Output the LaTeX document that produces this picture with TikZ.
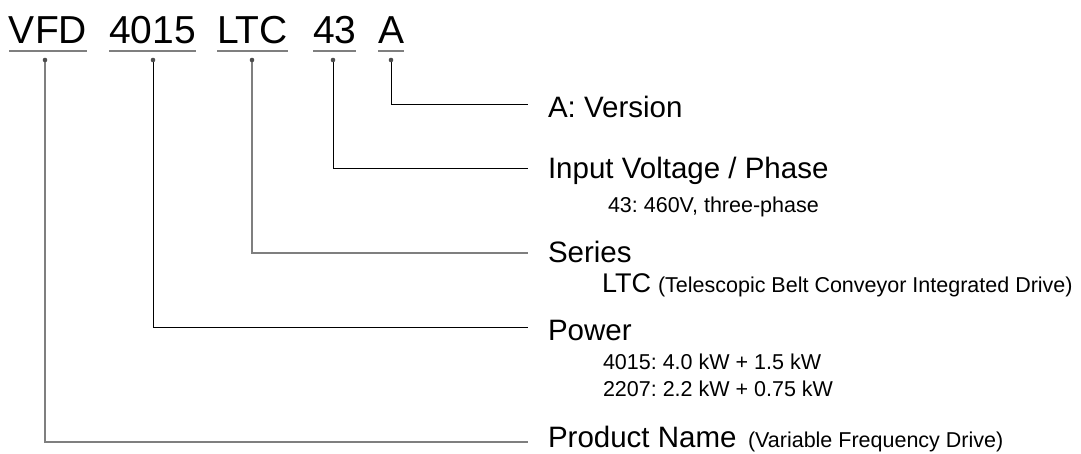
\documentclass[tikz,border=0pt]{standalone}
\usepackage{fontspec}
\setmainfont{Liberation Sans}
\definecolor{lgray}{HTML}{7F7F7F}
\definecolor{dgray}{HTML}{4D4D4D}
\frenchspacing
\begin{document}
\begin{tikzpicture}[x=1pt,y=1pt,
  every node/.style={inner sep=0pt,outer sep=0pt,anchor=base west},
  titletxt/.style={font=\fontsize{39}{39}\selectfont},
  bigtxt/.style={font=\fontsize{29.5}{30}\selectfont},
  smalltxt/.style={font=\fontsize{21.5}{22}\selectfont},
  uline/.style={draw=lgray,line width=1.8pt},
  dotmark/.style={fill=dgray,draw=none},
  conblack/.style={draw=black,line width=1pt},
  congray/.style={draw=lgray,line width=1.5pt}]
\useasboundingbox (0,0) rectangle (1081,-453);
% title words
\node[titletxt] (vfd) at (9,-43) {VFD};
\node[titletxt] (pw) at (109,-43) {4015};
\node[titletxt] (ser) at (217,-43) {LTC};
\node[titletxt] (vol) at (313,-43) {43};
\node[titletxt] (ver) at (378,-43) {A};
\foreach \n in {vfd,pw,ser,vol,ver}{
  \draw[uline] ([yshift=-8pt]\n.base west) -- ([yshift=-8pt]\n.base east);
}
% dots
\coordinate (dvfd) at (45,-60);
\coordinate (dpw) at (153,-60);
\coordinate (dser) at (252,-60);
\coordinate (dvol) at (333,-60);
\coordinate (dver) at (391,-60);
% connector ends
\coordinate (ever) at (528,-104);
\coordinate (evol) at (528,-168);
\coordinate (eser) at (528,-253);
\coordinate (epw) at (528,-327);
\coordinate (evfd) at (528,-442);
\draw[conblack] (dver) |- (ever);
\draw[conblack] (dvol) |- (evol);
\draw[congray] (dser) |- (eser);
\draw[conblack] (dpw) |- (epw);
\draw[congray] (dvfd) |- (evfd);
\foreach \n in {dvfd,dpw,dser,dvol,dver}{
  \fill[dotmark] (\n) circle (2.3pt);
}
% labels
\node[bigtxt] (lver) at (548,-117) {A: Version};
\node[bigtxt] (lvol) at (548,-178) {Input Voltage / Phase};
\node[smalltxt] (lvol2) at (608,-212) {43: 460V, three-phase};
\node[bigtxt] (lser) at (548,-262) {Series};
\node[font=\fontsize{27}{28}\selectfont] (lser2) at (602,-292) {LTC};
\node[smalltxt] (lser3) at (658,-292) {(Telescopic Belt Conveyor Integrated Drive)};
\node[bigtxt] (lpw) at (548,-340) {Power};
\node[smalltxt] (lpw2) at (603,-369) {4015: 4.0 kW + 1.5 kW};
\node[smalltxt] (lpw3) at (603,-396) {2207: 2.2 kW + 0.75 kW};
\node[bigtxt] (lvfd) at (548,-447) {Product Name};
\node[smalltxt] (lvfd2) at (748,-447) {(Variable Frequency Drive)};
\end{tikzpicture}
\end{document}
